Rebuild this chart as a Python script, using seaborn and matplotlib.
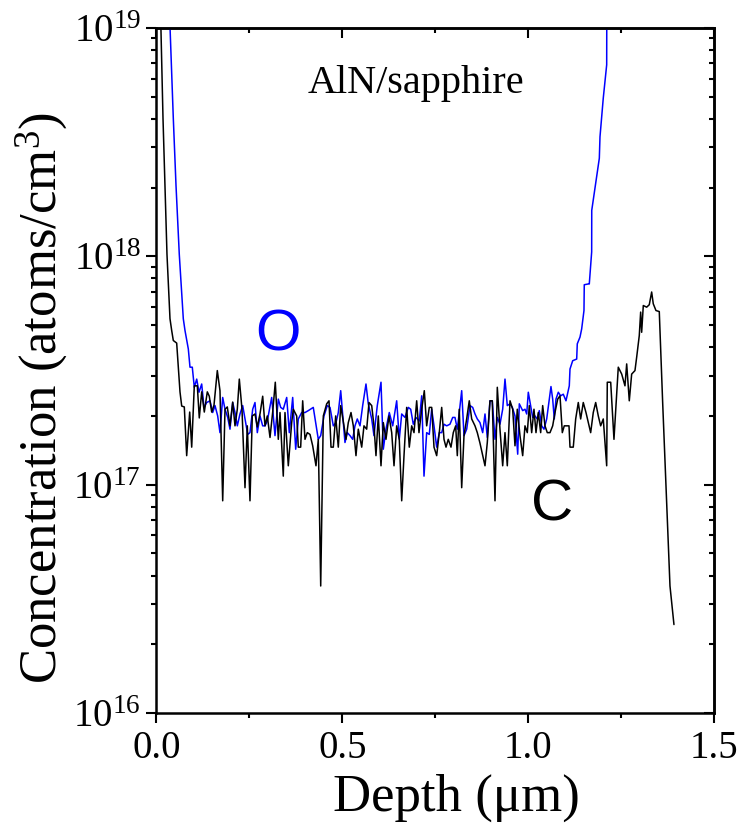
import numpy as np
import pandas as pd
import matplotlib
matplotlib.use("Agg")
import matplotlib.pyplot as plt
import seaborn as sns
from matplotlib.ticker import LogLocator, LogFormatterMathtext, MultipleLocator, NullFormatter

# ---------------- data (depth in um, concentration in 1e17 atoms/cm^3) ----------------
c_depth = [
    0.0094, 0.0175, 0.0229, 0.0282, 0.0363, 0.0409, 0.0452, 0.0543, 0.0632, 0.0678,
    0.0748, 0.0812, 0.0893, 0.0947, 0.1017, 0.1098, 0.1151, 0.1216, 0.1286, 0.1367,
    0.1420, 0.1485, 0.1547, 0.1636, 0.1708, 0.1781, 0.1843, 0.1905, 0.1977, 0.2050,
    0.2112, 0.2174, 0.2228, 0.2300, 0.2381, 0.2443, 0.2515, 0.2577, 0.2650, 0.2712,
    0.2784, 0.2857, 0.2919, 0.2981, 0.3054, 0.3126, 0.3196, 0.3277, 0.3323, 0.3411,
    0.3457, 0.3546, 0.3637, 0.3680, 0.3772, 0.3815, 0.3879, 0.3933, 0.3995, 0.4057,
    0.4130, 0.4202, 0.4291, 0.4353, 0.4418, 0.4488, 0.4579, 0.4641, 0.4695, 0.4757,
    0.4821, 0.4891, 0.4956, 0.5044, 0.5098, 0.5160, 0.5233, 0.5295, 0.5367, 0.5429,
    0.5521, 0.5582, 0.5655, 0.5717, 0.5790, 0.5851, 0.5905, 0.5967, 0.6040, 0.6102,
    0.6174, 0.6255, 0.6328, 0.6390, 0.6462, 0.6532, 0.6597, 0.6659, 0.6731, 0.6801,
    0.6866, 0.6928, 0.7000, 0.7062, 0.7135, 0.7205, 0.7269, 0.7339, 0.7404, 0.7466,
    0.7538, 0.7608, 0.7673, 0.7735, 0.7789, 0.7850, 0.7923, 0.7985, 0.8049, 0.8093,
    0.8146, 0.8211, 0.8273, 0.8345, 0.8415, 0.8480, 0.8569, 0.8631, 0.8703, 0.8776,
    0.8838, 0.8900, 0.8972, 0.9034, 0.9107, 0.9169, 0.9241, 0.9314, 0.9376, 0.9438,
    0.9511, 0.9583, 0.9645, 0.9707, 0.9779, 0.9852, 0.9914, 0.9976, 1.0030, 1.0094,
    1.0156, 1.0210, 1.0272, 1.0336, 1.0390, 1.0452, 1.0514, 1.0587, 1.0659, 1.0721,
    1.0794, 1.0856, 1.0918, 1.0971, 1.1098, 1.1125, 1.1213, 1.1278, 1.1348, 1.1412,
    1.1482, 1.1555, 1.1617, 1.1681, 1.1751, 1.1816, 1.1886, 1.1950, 1.2020, 1.2112,
    1.2128, 1.2220, 1.2308, 1.2424, 1.2516, 1.2604, 1.2650, 1.2720, 1.2784, 1.2873,
    1.2919, 1.2989, 1.3026, 1.3053, 1.3097, 1.3188, 1.3258, 1.3322, 1.3365, 1.3438,
    1.3527, 1.3618, 1.3815, 1.3922,
]
c_conc = [
    150, 40.2, 20.4, 10.2, 5.33, 4.73, 4.28, 4.17, 2.55, 2.21,
    2.19, 1.34, 2.08, 1.46, 2.71, 2.71, 1.96, 2.55, 2.08, 2.55,
    2.44, 2.08, 2.23, 3.16, 2.58, 0.85, 2.14, 2.19, 1.81, 2.30,
    1.81, 2.14, 2.90, 2.14, 0.97, 1.81, 0.85, 2.00, 2.04, 1.79,
    2.04, 2.44, 1.81, 2.00, 1.61, 2.08, 2.81, 1.58, 2.07, 1.09,
    2.07, 1.21, 1.87, 2.14, 2.00, 1.46, 1.46, 2.33, 1.58, 1.69,
    1.66, 1.48, 1.21, 1.58, 0.36, 2.00, 2.26, 2.33, 1.46, 1.46,
    2.00, 1.46, 2.22, 1.81, 1.58, 1.87, 2.07, 1.81, 1.34, 1.75,
    1.46, 1.81, 1.75, 2.29, 2.22, 1.81, 1.34, 2.00, 1.21, 1.87,
    1.58, 2.00, 1.69, 1.21, 1.81, 1.58, 0.85, 1.34, 2.18, 1.46,
    1.81, 1.69, 2.33, 1.69, 2.14, 2.58, 1.81, 2.18, 2.18, 1.46,
    1.34, 1.69, 2.18, 1.58, 1.46, 1.58, 1.46, 1.69, 1.81, 1.34,
    2.14, 0.97, 1.64, 1.94, 2.33, 1.94, 1.81, 1.69, 1.52, 1.34,
    1.21, 1.53, 2.33, 2.33, 0.85, 2.67, 1.75, 1.21, 1.69, 1.21,
    2.33, 2.14, 1.48, 2.14, 1.64, 1.34, 1.81, 1.69, 2.22, 1.69,
    2.14, 1.69, 2.07, 1.69, 2.22, 1.81, 1.69, 1.69, 1.81, 2.07,
    2.37, 2.45, 1.69, 1.81, 1.81, 1.46, 1.46, 1.94, 2.29, 1.94,
    2.29, 2.07, 1.87, 1.69, 2.07, 2.29, 2.00, 1.81, 1.94, 1.21,
    2.81, 2.81, 1.58, 3.27, 3.05, 2.71, 3.38, 2.33, 3.05, 3.16,
    3.62, 4.50, 5.70, 4.65, 6.09, 5.99, 6.14, 6.98, 6.20, 5.79,
    5.73, 2.29, 0.36, 0.244,
]

o_depth = [
    0.0336, 0.0363, 0.0452, 0.0525, 0.0613, 0.0721, 0.0767, 0.0856, 0.0901, 0.0963,
    0.1017, 0.1082, 0.1143, 0.1216, 0.1278, 0.1351, 0.1439, 0.1512, 0.1574, 0.1646,
    0.1708, 0.1781, 0.1843, 0.1916, 0.1977, 0.2050, 0.2112, 0.2174, 0.2246, 0.2319,
    0.2381, 0.2454, 0.2515, 0.2588, 0.2650, 0.2712, 0.2784, 0.2857, 0.2919, 0.2981,
    0.3099, 0.3188, 0.3277, 0.3341, 0.3411, 0.3503, 0.3573, 0.3664, 0.3745, 0.3815,
    0.3906, 0.3995, 0.4084, 0.4218, 0.4353, 0.4418, 0.4506, 0.4595, 0.4668, 0.4757,
    0.4829, 0.4891, 0.4956, 0.5026, 0.5071, 0.5133, 0.5206, 0.5278, 0.5340, 0.5402,
    0.5475, 0.5547, 0.5636, 0.5698, 0.5790, 0.5851, 0.5940, 0.6040, 0.6102, 0.6174,
    0.6263, 0.6355, 0.6462, 0.6532, 0.6597, 0.6686, 0.6774, 0.6839, 0.6909, 0.6981,
    0.7070, 0.7135, 0.7197, 0.7269, 0.7339, 0.7404, 0.7466, 0.7538, 0.7608, 0.7673,
    0.7735, 0.7807, 0.7896, 0.7969, 0.8031, 0.8093, 0.8146, 0.8211, 0.8273, 0.8345,
    0.8434, 0.8507, 0.8569, 0.8631, 0.8703, 0.8776, 0.8838, 0.8900, 0.8972, 0.9034,
    0.9107, 0.9169, 0.9241, 0.9314, 0.9376, 0.9438, 0.9511, 0.9573, 0.9645, 0.9718,
    0.9761, 0.9852, 0.9914, 0.9960, 1.0003, 1.0067, 1.0121, 1.0183, 1.0245, 1.0299,
    1.0363, 1.0425, 1.0498, 1.0568, 1.0613, 1.0659, 1.0702, 1.0748, 1.0810, 1.0874,
    1.0944, 1.1017, 1.1106, 1.1125, 1.1197, 1.1305, 1.1321, 1.1394, 1.1439, 1.1501,
    1.1509, 1.1617, 1.1644, 1.1708, 1.1710, 1.1914, 1.1932, 1.2020, 1.2112, 1.2114,
    1.2134,
]
o_conc = [
    150, 102, 40.3, 20.4, 10.2, 5.33, 4.73, 3.93, 3.27, 3.27,
    2.67, 2.90, 2.54, 2.76, 2.18, 2.29, 2.33, 2.07, 2.22, 2.00,
    1.69, 2.41, 2.14, 1.97, 1.75, 2.29, 2.07, 1.81, 2.04, 2.22,
    1.94, 1.66, 1.69, 2.14, 2.29, 1.69, 2.00, 1.81, 1.81, 1.90,
    2.41, 1.64, 2.37, 2.18, 2.14, 2.41, 1.69, 2.41, 1.43, 1.94,
    2.07, 2.07, 2.11, 2.18, 1.58, 1.64, 2.00, 2.22, 2.18, 1.81,
    1.87, 2.07, 2.58, 1.87, 1.53, 1.69, 1.64, 1.58, 1.81, 1.94,
    1.81, 2.22, 2.76, 2.26, 1.94, 1.64, 2.22, 2.81, 1.43, 1.75,
    2.07, 1.81, 2.33, 1.58, 2.04, 1.97, 2.18, 2.14, 1.84, 1.97,
    1.90, 2.45, 1.09, 1.69, 1.66, 2.14, 1.81, 1.46, 1.69, 1.69,
    1.84, 1.81, 1.84, 1.97, 1.97, 1.75, 2.07, 2.58, 1.64, 1.75,
    2.22, 2.18, 2.04, 1.94, 1.87, 1.69, 2.04, 1.61, 2.33, 2.33,
    1.58, 1.97, 1.84, 2.14, 2.90, 2.22, 2.26, 2.18, 2.00, 1.36,
    2.26, 2.11, 2.14, 2.04, 2.54, 2.22, 1.97, 2.00, 1.94, 2.11,
    1.81, 1.75, 1.94, 2.37, 2.69, 2.37, 1.94, 2.37, 2.54, 2.45,
    2.49, 2.33, 2.71, 3.21, 3.49, 3.55, 4.14, 4.43, 4.81, 5.79,
    7.51, 7.57, 7.57, 10.46, 15.9, 26.9, 33.4, 49.3, 69.0, 101.7,
    135,
]
UNIT = 1e17

x_ticks = [0.0, 0.5, 1.0, 1.5]
x_tick_labels = ["0.0", "0.5", "1.0", "1.5"]

# ---------------- style ----------------
sns.set_style("ticks")
plt.rcParams.update({
    "font.family": ["Liberation Serif", "DejaVu Serif"],
    "mathtext.fontset": "custom",
    "mathtext.rm": "Liberation Serif",
    "mathtext.it": "Liberation Serif:italic",
    "mathtext.bf": "Liberation Serif:bold",
    "axes.edgecolor": "black",
    "xtick.color": "black",
    "ytick.color": "black",
    "text.color": "black",
    "axes.labelcolor": "black",
})

df = pd.concat([
    pd.DataFrame({"depth": o_depth, "conc": np.array(o_conc) * UNIT, "element": "O"}),
    pd.DataFrame({"depth": c_depth, "conc": np.array(c_conc) * UNIT, "element": "C"}),
], ignore_index=True)

fig = plt.figure(figsize=(7.41, 8.24), dpi=100)
ax = fig.add_axes([0.2112, 0.1347, 0.7524, 0.8313])

sns.lineplot(data=df, x="depth", y="conc", hue="element", hue_order=["O", "C"],
             palette={"O": "#0000ff", "C": "black"}, estimator=None, sort=False,
             linewidth=1.1, legend=False, ax=ax)

ax.set_yscale("log")
ax.set_ylim(1e16, 1e19)
ax.set_xlim(0, 1.5)

ax.set_xticks(x_ticks)
ax.set_xticklabels(x_tick_labels)
ax.xaxis.set_minor_locator(MultipleLocator(0.25))
ax.yaxis.set_major_locator(LogLocator(base=10, numticks=10))
ax.yaxis.set_minor_locator(LogLocator(base=10, subs=np.arange(2, 10), numticks=20))
ax.yaxis.set_major_formatter(LogFormatterMathtext())
ax.yaxis.set_minor_formatter(NullFormatter())

ax.tick_params(which="major", direction="out", length=7.2, width=1.5, labelsize=28,
               top=False, right=False, pad=4)
ax.tick_params(axis="x", which="major", pad=5)
ax.tick_params(which="minor", direction="out", length=3.5, width=1.5, top=False, right=False)
for s in ax.spines.values():
    s.set_linewidth(1.8)

# mirrored inward ticks on top and right
secx = ax.secondary_xaxis("top")
secx.set_xticks(x_ticks)
secx.xaxis.set_minor_locator(MultipleLocator(0.25))
secx.xaxis.set_major_formatter(NullFormatter())
secx.tick_params(which="major", direction="in", length=7.2, width=1.5)
secx.tick_params(which="minor", direction="in", length=3.5, width=1.5)
secy = ax.secondary_yaxis("right")
secy.yaxis.set_major_locator(LogLocator(base=10, numticks=10))
secy.yaxis.set_minor_locator(LogLocator(base=10, subs=np.arange(2, 10), numticks=20))
secy.yaxis.set_major_formatter(NullFormatter())
secy.yaxis.set_minor_formatter(NullFormatter())
secy.tick_params(which="major", direction="in", length=7.2, width=1.5)
secy.tick_params(which="minor", direction="in", length=3.5, width=1.5)
for sa in (secx, secy):
    for s in sa.spines.values():
        s.set_linewidth(1.8)

ax.set_xlabel("Depth (\u03bcm)", fontsize=38)
ax.set_ylabel("Concentration (atoms/cm$^{3}$)", fontsize=38)
ax.xaxis.set_label_coords(0.538, -0.089)
ax.yaxis.set_label_coords(-0.155, 0.46)

ax.text(0.465, 0.905, "AlN/sapphire", transform=ax.transAxes, ha="center",
        va="baseline", fontsize=29)
ax.text(0.326, 3.87e17, "O", color="#0000ff", fontsize=42,
        family=["Liberation Sans", "DejaVu Sans"], ha="center", va="baseline")
ax.text(1.065, 0.70e17, "C", color="black", fontsize=42,
        family=["Liberation Sans", "DejaVu Sans"], ha="center", va="baseline")

fig.savefig("out.png", dpi=100)
